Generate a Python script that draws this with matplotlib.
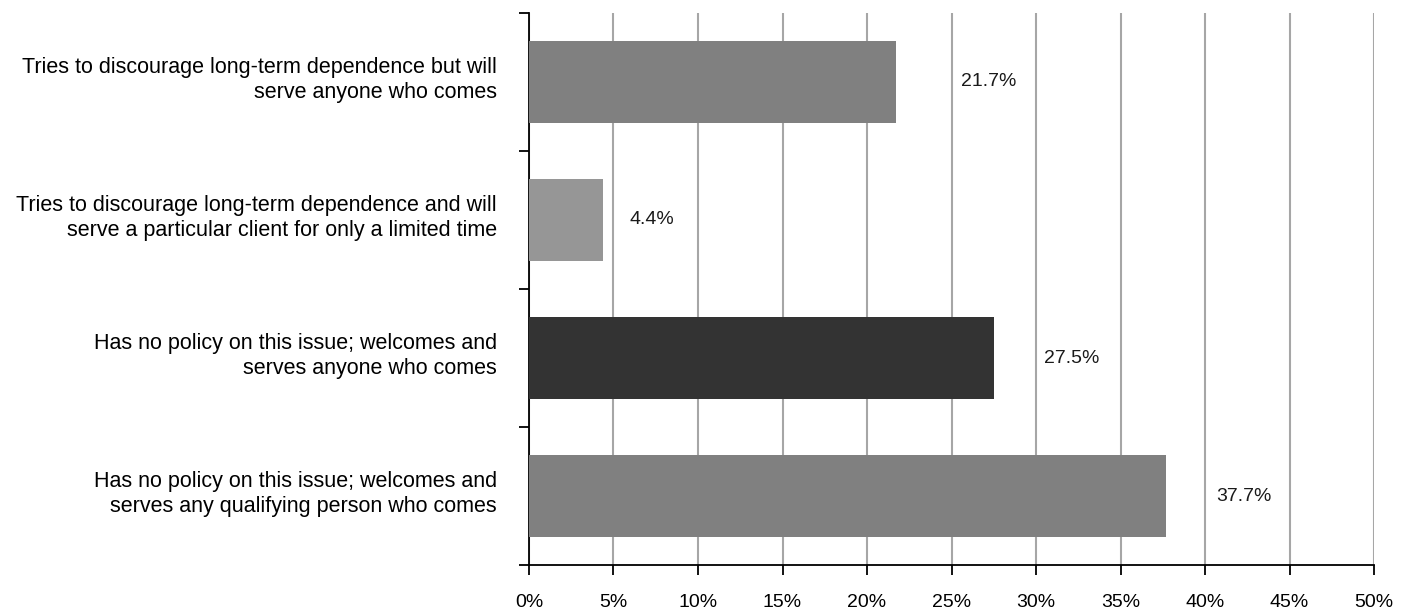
import numpy as np
import matplotlib
matplotlib.use('Agg')
from matplotlib import pyplot as plt
from matplotlib.ticker import FixedLocator, PercentFormatter
from matplotlib.transforms import ScaledTranslation

plt.rcParams['font.family'] = ['Liberation Sans', 'DejaVu Sans']

categories = ['Tries to discourage long-term dependence but will\nserve anyone who comes',
              'Tries to discourage long-term dependence and will\nserve a particular client for only a limited time',
              'Has no policy on this issue; welcomes and\nserves anyone who comes',
              'Has no policy on this issue; welcomes and\nserves any qualifying person who comes']
values = [21.7, 4.4, 27.5, 37.7]
colors = ['#808080', '#969696', '#333333', '#808080']
# horizontal gap between bar end and label centre (data units)
label_gap = [5.5, 2.9, 4.6, 4.6]

fig = plt.figure(figsize=(14.08, 6.09), dpi=100)
ax = fig.add_axes([0.3757, 0.0722, 0.6002, 0.9065])

y = np.arange(len(categories))
ax.barh(y, values, height=0.59, color=colors, zorder=3)
for yi, v, g in zip(y, values, label_gap):
    ax.text(v + g, yi, '%.1f%%' % v, ha='center', va='center', fontsize=14, color='#1a1a1a')

ax.set_xlim(0, 50)
ax.set_ylim(len(categories) - 0.5, -0.5)
ax.set_xticks(np.arange(0, 51, 5))
ax.xaxis.set_major_formatter(PercentFormatter(decimals=0))
ax.xaxis.grid(True, color='#a6a6a6', linewidth=1.5, zorder=0)

# category labels, ticks sit at the boundaries
ax.set_yticks(y)
ax.set_yticklabels(categories, fontsize=15.5, ha='right', linespacing=1.25)
ax.tick_params(axis='y', which='major', length=0, pad=23)
shift = ScaledTranslation(0, 5 / 72, fig.dpi_scale_trans)
for lab in ax.get_yticklabels():
    lab.set_transform(lab.get_transform() + shift)
ax.yaxis.set_minor_locator(FixedLocator(np.arange(-0.5, len(categories), 1)))
ax.tick_params(axis='y', which='minor', length=7, width=1.3)
ax.tick_params(axis='x', length=7, width=1.3, labelsize=14, pad=14)

for s in ['top', 'right']:
    ax.spines[s].set_visible(False)
for s in ['left', 'bottom']:
    ax.spines[s].set_linewidth(1.3)

fig.savefig('out.png', dpi=100)
